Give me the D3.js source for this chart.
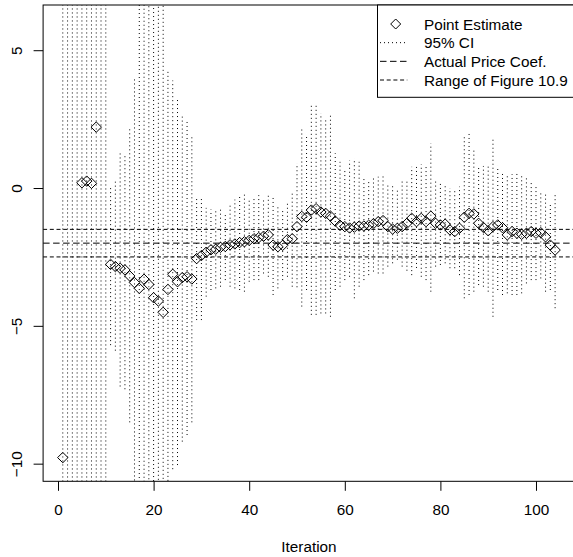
<!DOCTYPE html>
<html>
<head>
<meta charset="utf-8">
<script src="https://cdn.jsdelivr.net/npm/d3@7"></script>
<style>
  body { margin: 0; background: #fff; }
  svg text { font-family: "Liberation Sans", Arial, Helvetica, sans-serif; fill: #000; }
</style>
</head>
<body>
<div id="chart"></div>
<script>
// iteration index 1..104
const iterations = d3.range(1, 105)

// point estimate per iteration (null = outside plotted range)
const estimate = [
  -9.78, null, null, null, 0.19, 0.25, 0.17, 2.21, null, null,
  -2.77, -2.85, -2.91, -2.97, -3.19, -3.43, -3.64, -3.31, -3.5, -3.98,
  -4.1, -4.51, -3.68, -3.13, -3.4, -3.25, -3.22, -3.3, -2.56, -2.45,
  -2.33, -2.24, -2.22, -2.15, -2.12, -2.06, -2.03, -1.98, -1.95, -1.9,
  -1.84, -1.8, -1.75, -1.7, -2.07, -2.13, -2.08, -1.87, -1.84, -1.4,
  -1.03, -1.06, -0.8, -0.75, -0.87, -0.92, -1.02, -1.2, -1.35, -1.4,
  -1.45, -1.42, -1.38, -1.38, -1.35, -1.29, -1.22, -1.18, -1.4, -1.49,
  -1.46, -1.4, -1.28, -1.1, -1.22, -1.1, -1.22, -1.02, -1.28, -1.34,
  -1.31, -1.52, -1.58, -1.46, -1.06, -0.92, -0.94, -1.28, -1.43, -1.55,
  -1.4, -1.34, -1.44, -1.7, -1.58, -1.64, -1.68, -1.64, -1.58, -1.64,
  -1.62, -1.77, -2.07, -2.25
]

// 95% interval bounds per iteration
const ciLower = [
  -15, -15, -15, -15, -15, -15, -15, -15, -15, -15,
  -5.7, -5.9, -7.2, -7.3, -8.5, -10.9, -15.6, -15.3, -15.5, -16,
  -16.1, -16.5, -11.64, -10.2, -10.05, -9.2, -8.96, -8.5, -4.79, -4.79,
  -3.94, -3.7, -3.64, -3.58, -3.34, -3.58, -3.64, -3.7, -3.76, -3.4,
  -3.34, -3.34, -3.1, -3.22, -3.88, -3.64, -3.34, -3.22, -3.58, -3.6,
  -4.3, -3.7, -4.6, -4.6, -4.55, -4.55, -4.67, -3.7, -3.58, -3.34,
  -3.22, -4.0, -3.58, -3.34, -3.16, -3.03, -3.1, -3.1, -2.85, -2.73,
  -2.6, -2.85, -3.0, -3.16, -2.9, -3.22, -3.34, -3.76, -2.85, -2.79,
  -2.73, -2.91, -2.91, -3.16, -4.0, -3.88, -3.76, -3.52, -3.58, -3.76,
  -4.67, -3.7, -3.88, -3.82, -3.88, -3.88, -3.82, -3.46, -3.34, -3.34,
  -3.28, -3.76, -3.7, -4.36
]
const ciUpper = [
  15, 15, 15, 15, 15, 15, 15, 15, 15, 15,
  0.0, 0.23, 1.32, 1.26, 2.22, 4.04, 8.3, 8.7, 8.5, 8.0,
  7.9, 7.5, 4.28, 3.9, 3.25, 2.59, 2.4, 1.92, -0.32, -0.4,
  -0.72, -0.78, -0.8, -0.72, -0.9, -0.54, -0.42, -0.26, -0.14, -0.4,
  -0.34, -0.26, -0.4, -0.18, -0.26, -0.62, -0.82, -0.52, -0.1, 0.9,
  2.17, 1.86, 3.0, 3.0, 2.71, 2.47, 2.65, 1.26, 0.95, 0.65,
  1.0, 1.08, 0.95, 0.41, 0.29, 0.41, 0.41, 0.5, 0.15, 0.1,
  0.0, 0.29, 0.29, 0.77, 0.83, 0.86, 0.83, 1.62, 0.29, 0.2,
  0.11, 0.0, -0.1, 0.05, 1.92, 1.98, 1.44, 0.83, 0.8, 0.83,
  1.86, 0.8, 0.53, 0.5, 0.5, 0.53, 0.47, 0.35, 0.22, 0.04,
  -0.1, -0.2, -0.56, -0.2
]

const actualCoef = -2
const figureRange = [-1.5, -2.5]
const yLimits = [-10, 6]
const xTicks = [0, 20, 40, 60, 80, 100]
const yTicks = [-10, -5, 0, 5]
const xLabel = "Iteration"
const legendLabels = ["Point Estimate", "95% CI", "Actual Price Coef.", "Range of Figure 10.9"]

const width = 573
const height = 557
const plot = { left: 43.1, right: 574.8, top: 5, bottom: 481.3 }
const fontSize = 15.3

// R-style 4% expansion of the axis limits
const expand = ([a, b]) => [a - 0.04 * (b - a), b + 0.04 * (b - a)]

const x = d3.scaleLinear()
  .domain(expand(d3.extent(iterations)))
  .range([plot.left, plot.right])
const y = d3.scaleLinear()
  .domain(expand(yLimits))
  .range([plot.bottom, plot.top])

const svg = d3.select("#chart")
  .append("svg")
  .attr("width", width)
  .attr("height", height)
  .attr("viewBox", [0, 0, width, height])

svg.append("clipPath")
  .attr("id", "plot-clip")
  .append("rect")
  .attr("x", plot.left)
  .attr("y", plot.top)
  .attr("width", plot.right - plot.left)
  .attr("height", plot.bottom - plot.top)

const inner = svg.append("g").attr("clip-path", "url(#plot-clip)")

// dotted interval segments
inner.append("g")
  .attr("class", "ci")
  .selectAll("line")
  .data(iterations.map((it, i) => ({ it, lo: ciLower[i], hi: ciUpper[i] })))
  .join("line")
  .attr("x1", d => x(d.it))
  .attr("x2", d => x(d.it))
  .attr("y1", d => y(d.lo))
  .attr("y2", d => y(d.hi))
  .attr("stroke", "#000")
  .attr("stroke-width", 1)
  .attr("stroke-dasharray", "1,3")

// reference lines
inner.append("line")
  .attr("x1", plot.left).attr("x2", plot.right)
  .attr("y1", y(actualCoef)).attr("y2", y(actualCoef))
  .attr("stroke", "#000")
  .attr("stroke-dasharray", "6.5,3.5")

inner.append("g")
  .selectAll("line")
  .data(figureRange)
  .join("line")
  .attr("x1", plot.left).attr("x2", plot.right)
  .attr("y1", d => y(d)).attr("y2", d => y(d))
  .attr("stroke", "#000")
  .attr("stroke-dasharray", "4,2.7")

const diamond = r => d3.line()([[0, -r], [r, 0], [0, r], [-r, 0]]) + "Z"

inner.append("g")
  .attr("class", "points")
  .selectAll("path")
  .data(iterations.map((it, i) => ({ it, v: estimate[i] })).filter(d => d.v !== null))
  .join("path")
  .attr("d", diamond(5.2))
  .attr("transform", d => `translate(${x(d.it)},${y(d.v)})`)
  .attr("fill", "none")
  .attr("stroke", "#000")
  .attr("stroke-width", 1)

// frame
svg.append("rect")
  .attr("x", plot.left)
  .attr("y", plot.top)
  .attr("width", plot.right - plot.left)
  .attr("height", plot.bottom - plot.top)
  .attr("fill", "none")
  .attr("stroke", "#000")

// axes
const xAxis = svg.append("g")
  .attr("transform", `translate(0,${plot.bottom})`)
  .call(d3.axisBottom(x).tickValues(xTicks).tickSize(9.5).tickSizeOuter(0))
xAxis.select(".domain").remove()
xAxis.selectAll(".tick line").attr("stroke", "#000")
xAxis.selectAll(".tick text")
  .attr("y", 33.7)
  .attr("dy", 0)
  .style("font-size", fontSize + "px")
  .style("font-family", null)

const yAxis = svg.append("g")
  .attr("transform", `translate(${plot.left},0)`)
  .call(d3.axisLeft(y).tickValues(yTicks).tickSize(9.5).tickSizeOuter(0))
yAxis.select(".domain").remove()
yAxis.selectAll(".tick line").attr("stroke", "#000")
yAxis.selectAll(".tick text")
  .attr("x", 0)
  .attr("y", 0)
  .attr("dy", 0)
  .attr("text-anchor", "middle")
  .attr("transform", `translate(${21.7 - plot.left},0) rotate(-90)`)
  .style("font-size", fontSize + "px")
  .style("font-family", null)
  .text(d => d < 0 ? "\u2212" + Math.abs(d) : d)

svg.append("text")
  .attr("x", (plot.left + plot.right) / 2)
  .attr("y", 552)
  .attr("text-anchor", "middle")
  .style("font-size", fontSize + "px")
  .text(xLabel)

// legend
const legend = svg.append("g").attr("class", "legend")
legend.append("rect")
  .attr("x", 377.5)
  .attr("y", plot.top)
  .attr("width", plot.right - 377.5)
  .attr("height", 92.3)
  .attr("fill", "#fff")
  .attr("stroke", "#000")

const rowY = i => 24 + i * 18.67
const legendDash = [null, "1,3", "6.5,3.5", "4,2.7"]

legendLabels.forEach((label, i) => {
  if (i === 0) {
    legend.append("path")
      .attr("d", diamond(5))
      .attr("transform", `translate(395.7,${rowY(i)})`)
      .attr("fill", "none")
      .attr("stroke", "#000")
  } else {
    legend.append("line")
      .attr("x1", 380).attr("x2", 407.3)
      .attr("y1", rowY(i)).attr("y2", rowY(i))
      .attr("stroke", "#000")
      .attr("stroke-dasharray", legendDash[i])
  }
  legend.append("text")
    .attr("x", 424)
    .attr("y", rowY(i) + 5.5)
    .style("font-size", fontSize + "px")
    .text(label)
})
</script>
</body>
</html>
